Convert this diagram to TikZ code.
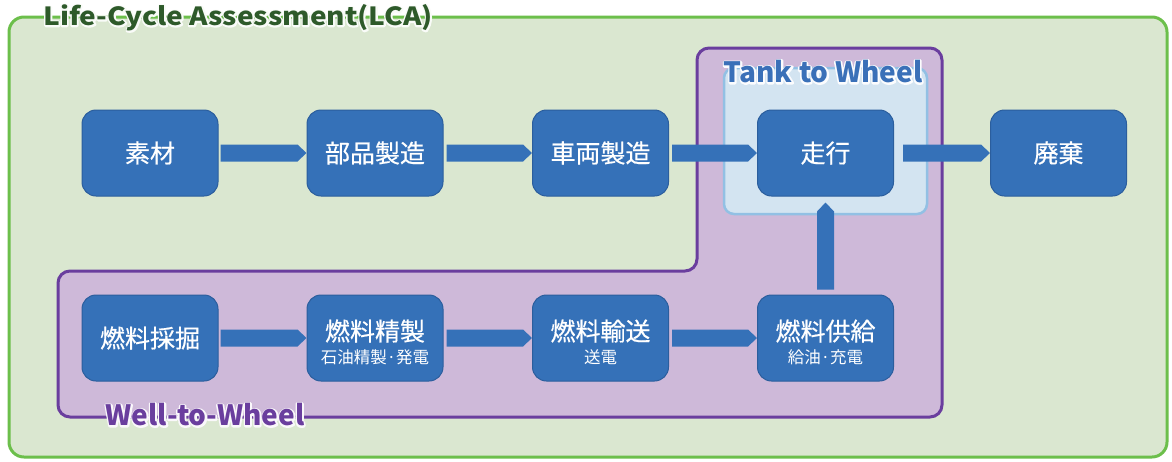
\documentclass[tikz,border=0pt]{standalone}
\usepackage{fontspec}
\setmainfont{Noto Sans CJK JP}
\newfontfamily\boxfont[FakeBold=0.5]{Noto Sans CJK JP}
\newfontfamily\titlefont[FakeStretch=1.12]{Noto Sans CJK JP}
\definecolor{lcafill}{HTML}{DAE7D0}
\definecolor{lcaline}{HTML}{6CBF4B}
\definecolor{lcatext}{HTML}{2E5A2A}
\definecolor{wtwfill}{HTML}{CEB9D9}
\definecolor{wtwline}{HTML}{6A3E9E}
\definecolor{ttwfill}{HTML}{D3E4F1}
\definecolor{ttwline}{HTML}{92C0E4}
\definecolor{ttwtext}{HTML}{3A70B8}
\definecolor{boxfill}{HTML}{3571B8}
\definecolor{boxline}{HTML}{2B5E9D}
\newcommand\halotext[2]{\leavevmode\rlap{\color{#1}\special{pdf:literal direct 1 Tr 3.2 w 1 J 1 j}#2\special{pdf:literal direct 0 Tr 1 w}}#2}
\tikzset{
  procbox/.style={draw=boxline, line width=1pt, fill=boxfill, rounded corners=14pt,
    minimum width=136pt, minimum height=86pt, inner sep=0pt, text=white, align=center,
    font=\boxfont\fontsize{25}{30}\selectfont},
  boxtext/.style={text=white, inner sep=0pt, font=\boxfont\fontsize{25}{30}\selectfont},
  subtext/.style={text=white, inner sep=0pt, font=\fontsize{16.5}{20}\selectfont},
  arr/.style={fill=boxfill}
}
\newcommand\harrow[3]{\fill[arr] ([xshift=#3pt,yshift=8.5pt]#1.east) -- ([xshift=-9pt,yshift=8.5pt]#2.west) -- (#2.west) -- ([xshift=-9pt,yshift=-8.5pt]#2.west) -- ([xshift=#3pt,yshift=-8.5pt]#1.east) -- cycle;}
\begin{document}
\begin{tikzpicture}[x=1pt,y=-1pt]
\useasboundingbox (0,0) rectangle (1172,461);
% LCA frame
\draw[lcaline, fill=lcafill, line width=3pt, rounded corners=15pt] (9,17) rectangle (1167,457);
\node[text=lcatext, font=\titlefont\fontsize{25}{28}\selectfont\bfseries, anchor=center] (lca) at (238,18) {\halotext{white!85!lcafill}{Life-Cycle Assessment(LCA)}};
% Well to Wheel region
\draw[wtwline, fill=wtwfill, line width=3pt, rounded corners=12pt]
  (697,48) -- (942,48) -- (942,417) -- (58,417) -- (58,271) -- (697,271) -- cycle;
% Tank to wheel region
\draw[ttwline, fill=ttwfill, line width=2.5pt, rounded corners=10pt] (724,68) rectangle (927,214);
\node[text=ttwtext, font=\fontsize{28}{30}\selectfont\bfseries] (ttw) at (823,72) {\halotext{white!90!ttwfill}{Tank to Wheel}};
\node[text=wtwline, font=\fontsize{28}{30}\selectfont\bfseries] (wtw) at (205,415) {\halotext{white!90!wtwfill}{Well-to-Wheel}};
% top row
\node[procbox] (sozai) at (150,153) {素材};
\node[procbox] (buhin) at (375,153) {部品製造};
\node[procbox] (sharyo) at (600.5,153) {車両製造};
\node[procbox] (soko) at (825.5,153) {走行};
\node[procbox] (haiki) at (1058.5,153) {廃棄};
% bottom row
\node[procbox] (saikutsu) at (150,338) {燃料採掘};
\node[procbox] (seisei) at (375,338) {};
\node[boxtext] (seisei-t) at ([yshift=7pt]seisei.center) {燃料精製};
\node[subtext] (seisei-s) at ([yshift=-19pt]seisei.center) {石油精製·発電};
\node[procbox] (yuso) at (600.5,338) {};
\node[boxtext] (yuso-t) at ([yshift=7pt]yuso.center) {燃料輸送};
\node[subtext] (yuso-s) at ([yshift=-19pt]yuso.center) {送電};
\node[procbox] (kyokyu) at (825.5,338) {};
\node[boxtext] (kyokyu-t) at ([yshift=7pt]kyokyu.center) {燃料供給};
\node[subtext] (kyokyu-s) at ([yshift=-19pt]kyokyu.center) {給油·充電};
% arrows
\harrow{sozai}{buhin}{2}
\harrow{buhin}{sharyo}{3}
\harrow{sharyo}{soko}{3}
\harrow{soko}{haiki}{9}
\harrow{saikutsu}{seisei}{2}
\harrow{seisei}{yuso}{3}
\harrow{yuso}{kyokyu}{3}
\fill[arr] ([xshift=-8.5pt,yshift=5pt]kyokyu.north) -- ([xshift=-8.5pt,yshift=-15pt]soko.south) -- ([yshift=-6pt]soko.south) -- ([xshift=8.5pt,yshift=-15pt]soko.south) -- ([xshift=8.5pt,yshift=5pt]kyokyu.north) -- cycle;
\end{tikzpicture}
\end{document}
